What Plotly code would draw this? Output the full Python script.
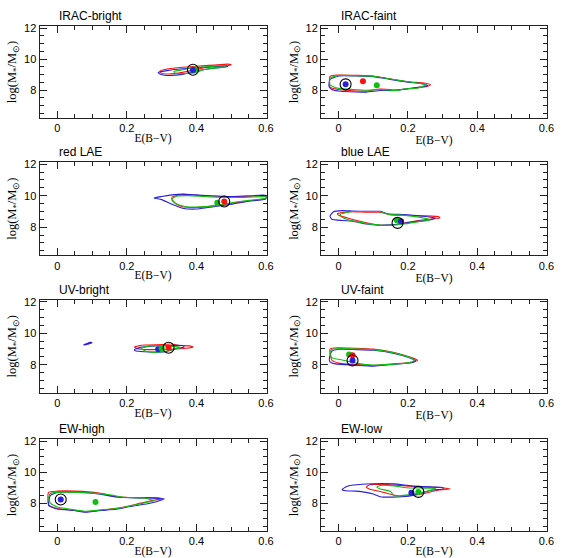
import plotly.graph_objects as go

# ---------------- data ----------------
PANEL_TITLES = ["IRAC-bright", "IRAC-faint", "red LAE", "blue LAE",
                "UV-bright", "UV-faint", "EW-high", "EW-low"]

X_TICKS = [0, 0.2, 0.4, 0.6]
X_TICK_TEXT = ["0", "0.2", "0.4", "0.6"]
Y_TICKS = [8, 10, 12]
Y_TICK_TEXT = ["8", "10", "12"]

# contours (E(B-V), log M*) per panel and colour
irac_bright_red = [(0.295, 9.22), (0.32, 9.38), (0.36, 9.48), (0.40, 9.55), (0.45, 9.62), (0.49, 9.68),
                   (0.50, 9.64), (0.48, 9.55), (0.44, 9.50), (0.40, 9.35), (0.36, 9.15), (0.32, 9.05), (0.298, 9.12)]
irac_bright_blue = [(0.29, 9.15), (0.32, 9.28), (0.36, 9.38), (0.40, 9.45), (0.45, 9.52), (0.485, 9.58),
                    (0.49, 9.52), (0.45, 9.42), (0.40, 9.25), (0.36, 9.02), (0.32, 8.95), (0.295, 9.05)]
irac_bright_green = [(0.335, 9.2), (0.36, 9.32), (0.39, 9.45), (0.42, 9.5), (0.46, 9.56), (0.485, 9.58),
                     (0.48, 9.5), (0.45, 9.42), (0.42, 9.32), (0.40, 9.15), (0.37, 9.08), (0.34, 9.1)]

irac_faint_red = [(-0.025, 8.9), (0.0, 8.98), (0.05, 8.96), (0.10, 8.92), (0.15, 8.72), (0.20, 8.55), (0.25, 8.45),
                  (0.265, 8.36), (0.255, 8.25), (0.22, 8.15), (0.17, 8.02), (0.12, 8.08), (0.08, 7.95), (0.03, 7.98),
                  (0.0, 8.05), (-0.025, 8.2)]
irac_faint_blue = [(-0.028, 8.25), (-0.025, 8.7), (0.0, 8.92), (0.05, 8.92), (0.10, 8.88), (0.15, 8.7), (0.20, 8.52),
                   (0.24, 8.42), (0.258, 8.3), (0.24, 8.22), (0.20, 8.1), (0.16, 7.98), (0.12, 7.98), (0.08, 7.88),
                   (0.03, 7.9), (0.0, 7.95), (-0.02, 8.05)]
irac_faint_green = [(-0.025, 8.35), (-0.025, 8.78), (0.0, 8.95), (0.05, 8.94), (0.10, 8.9), (0.15, 8.72), (0.20, 8.55),
                    (0.24, 8.42), (0.252, 8.35), (0.23, 8.15), (0.19, 8.08), (0.165, 7.98), (0.12, 8.05), (0.08, 8.0),
                    (0.04, 8.05), (0.0, 8.12), (-0.015, 8.22)]

red_lae_red = [(0.33, 9.9), (0.36, 10.08), (0.40, 10.02), (0.45, 9.98), (0.50, 9.95), (0.55, 9.97), (0.60, 9.98),
               (0.60, 9.82), (0.55, 9.68), (0.50, 9.5), (0.45, 9.35), (0.40, 9.25), (0.36, 9.3), (0.34, 9.5), (0.33, 9.7)]
red_lae_blue = [(0.278, 9.85), (0.30, 9.95), (0.33, 10.05), (0.36, 10.1), (0.40, 10.05), (0.45, 9.98), (0.50, 9.95),
                (0.55, 9.98), (0.60, 10.02), (0.60, 9.8), (0.55, 9.65), (0.50, 9.45), (0.45, 9.3), (0.40, 9.15),
                (0.36, 9.2), (0.33, 9.45), (0.30, 9.75)]
red_lae_green = [(0.33, 9.82), (0.345, 9.98), (0.38, 10.0), (0.42, 9.95), (0.46, 9.9), (0.50, 9.88), (0.55, 9.9),
                 (0.60, 9.94), (0.60, 9.85), (0.55, 9.7), (0.50, 9.55), (0.45, 9.35), (0.40, 9.28), (0.37, 9.3),
                 (0.345, 9.45), (0.335, 9.62)]

blue_lae_red = [(-0.004, 8.85), (0.03, 8.98), (0.08, 8.95), (0.12, 8.95), (0.15, 8.78), (0.20, 8.75), (0.25, 8.72),
                (0.29, 8.65), (0.292, 8.58), (0.27, 8.52), (0.24, 8.45), (0.20, 8.3), (0.16, 8.15), (0.12, 8.12),
                (0.08, 8.28), (0.03, 8.55), (0.0, 8.75)]
blue_lae_blue = [(-0.025, 8.7), (-0.015, 8.98), (0.01, 9.05), (0.04, 9.02), (0.08, 9.0), (0.12, 9.0), (0.14, 8.85),
                 (0.19, 8.8), (0.24, 8.7), (0.28, 8.58), (0.26, 8.45), (0.22, 8.35), (0.18, 8.22), (0.15, 8.15),
                 (0.12, 8.12), (0.08, 8.2), (0.04, 8.38), (0.01, 8.42), (-0.02, 8.5)]
blue_lae_green = [(0.005, 8.82), (0.04, 8.99), (0.08, 8.99), (0.12, 8.99), (0.14, 8.84), (0.19, 8.75), (0.235, 8.62),
                  (0.265, 8.46), (0.235, 8.36), (0.195, 8.22), (0.155, 8.13), (0.12, 8.13), (0.07, 8.27),
                  (0.025, 8.48), (0.008, 8.65)]

uv_bright_red = [(0.222, 9.12), (0.25, 9.25), (0.30, 9.28), (0.33, 9.32), (0.35, 9.22), (0.38, 9.2), (0.39, 9.12),
                 (0.37, 9.05), (0.34, 9.0), (0.30, 8.98), (0.26, 8.96), (0.23, 9.02)]
uv_bright_blue = [(0.222, 8.95), (0.24, 9.1), (0.28, 9.2), (0.32, 9.22), (0.36, 9.22), (0.365, 9.12), (0.34, 9.02),
                  (0.31, 8.82), (0.28, 8.8), (0.25, 8.82), (0.225, 8.88)]
uv_bright_blue_islet = [(0.078, 9.25), (0.09, 9.32), (0.10, 9.4), (0.095, 9.42), (0.083, 9.33), (0.076, 9.27)]
uv_bright_green = [(0.24, 9.05), (0.27, 9.2), (0.31, 9.2), (0.34, 9.15), (0.355, 9.1), (0.34, 9.0), (0.31, 8.85),
                   (0.28, 8.78), (0.255, 8.85)]

uv_faint_red = [(-0.025, 9.0), (0.0, 9.08), (0.05, 9.05), (0.10, 8.99), (0.16, 8.78), (0.21, 8.45), (0.228, 8.28),
                (0.21, 8.15), (0.16, 8.05), (0.10, 7.95), (0.05, 8.0), (0.0, 8.1), (-0.02, 8.3)]
uv_faint_blue = [(-0.027, 8.4), (-0.02, 8.85), (0.0, 8.98), (0.05, 8.96), (0.10, 8.92), (0.16, 8.72), (0.21, 8.4),
                 (0.222, 8.25), (0.21, 8.12), (0.16, 8.02), (0.10, 7.9), (0.05, 7.96), (-0.01, 8.05), (-0.025, 8.18)]
uv_faint_green = [(-0.025, 8.75), (-0.02, 8.98), (0.0, 9.02), (0.05, 9.0), (0.10, 8.96), (0.16, 8.75), (0.21, 8.42),
                  (0.218, 8.24), (0.195, 8.1), (0.15, 8.02), (0.10, 7.97), (0.05, 8.1), (0.01, 8.3), (-0.02, 8.45)]

ew_high_red = [(-0.025, 8.7), (0.0, 8.78), (0.05, 8.78), (0.12, 8.66), (0.17, 8.42), (0.23, 8.36), (0.28, 8.36),
               (0.302, 8.28), (0.28, 8.2), (0.24, 8.0), (0.18, 7.7), (0.13, 7.55), (0.08, 7.45), (0.04, 7.55),
               (0.0, 7.65), (-0.025, 7.9)]
ew_high_blue = [(-0.025, 7.85), (-0.02, 8.5), (0.0, 8.7), (0.05, 8.72), (0.12, 8.6), (0.17, 8.4), (0.23, 8.34),
                (0.28, 8.32), (0.308, 8.28), (0.30, 8.2), (0.26, 7.96), (0.21, 7.78), (0.17, 7.6), (0.12, 7.52),
                (0.08, 7.42), (0.05, 7.52), (0.0, 7.62), (-0.02, 7.78)]
ew_high_green = [(-0.025, 8.35), (-0.02, 8.62), (0.0, 8.7), (0.06, 8.7), (0.12, 8.62), (0.15, 8.55), (0.195, 8.38),
                 (0.25, 8.33), (0.28, 8.15), (0.25, 8.02), (0.21, 7.82), (0.17, 7.65), (0.12, 7.55), (0.08, 7.47),
                 (0.04, 7.6), (0.0, 7.75), (-0.02, 8.0)]

ew_low_red = [(0.08, 9.05), (0.09, 9.2), (0.14, 9.2), (0.195, 9.12), (0.23, 9.05), (0.29, 9.02), (0.322, 8.92),
              (0.29, 8.85), (0.24, 8.6), (0.21, 8.5), (0.17, 8.48), (0.12, 8.76), (0.09, 8.9)]
ew_low_blue = [(0.01, 8.88), (0.025, 9.1), (0.08, 9.24), (0.16, 9.25), (0.21, 9.12), (0.27, 9.05), (0.30, 9.02),
               (0.302, 8.92), (0.27, 8.85), (0.21, 8.48), (0.17, 8.4), (0.12, 8.42), (0.10, 8.6), (0.05, 8.78),
               (0.02, 8.8)]
ew_low_green = [(0.11, 9.05), (0.12, 9.15), (0.16, 9.12), (0.195, 9.0), (0.24, 8.98), (0.28, 8.95), (0.26, 8.8),
                (0.195, 8.52), (0.16, 8.48), (0.15, 8.75), (0.12, 8.92)]

# best-fit points (colour, E(B-V), logM) and the circled best fit
irac_bright_dots = [("green", 0.395, 9.35), ("blue", 0.39, 9.3)]
irac_faint_dots = [("red", 0.07, 8.58), ("green", 0.11, 8.32), ("blue", 0.02, 8.38)]
red_lae_dots = [("green", 0.46, 9.55), ("red", 0.48, 9.63)]
blue_lae_dots = [("green", 0.168, 8.43), ("blue", 0.18, 8.38)]
uv_bright_dots = [("blue", 0.29, 8.98), ("green", 0.30, 9.05), ("red", 0.32, 9.08)]
uv_faint_dots = [("green", 0.03, 8.65), ("red", 0.04, 8.6), ("blue", 0.04, 8.27)]
ew_high_dots = [("green", 0.11, 8.07), ("blue", 0.01, 8.24)]
ew_low_dots = [("blue", 0.21, 8.68), ("green", 0.23, 8.73)]

circles_x = [0.39, 0.02, 0.48, 0.17, 0.32, 0.04, 0.01, 0.23]
circles_y = [9.32, 8.38, 9.63, 8.27, 9.08, 8.27, 8.24, 8.73]

# ---------------- assembly ----------------
COLORS = {"red": "#ff1010", "blue": "#2a1fe0", "green": "#10c010"}

panel_contours = [
    [("red", irac_bright_red), ("blue", irac_bright_blue), ("green", irac_bright_green)],
    [("red", irac_faint_red), ("blue", irac_faint_blue), ("green", irac_faint_green)],
    [("red", red_lae_red), ("blue", red_lae_blue), ("green", red_lae_green)],
    [("red", blue_lae_red), ("blue", blue_lae_blue), ("green", blue_lae_green)],
    [("red", uv_bright_red), ("blue", uv_bright_blue), ("blue", uv_bright_blue_islet), ("green", uv_bright_green)],
    [("red", uv_faint_red), ("blue", uv_faint_blue), ("green", uv_faint_green)],
    [("red", ew_high_red), ("blue", ew_high_blue), ("green", ew_high_green)],
    [("red", ew_low_red), ("blue", ew_low_blue), ("green", ew_low_green)],
]
panel_dots = [irac_bright_dots, irac_faint_dots, red_lae_dots, blue_lae_dots,
              uv_bright_dots, uv_faint_dots, ew_high_dots, ew_low_dots]

X_DOMAINS = [[0.0703, 0.4745], [0.5712, 0.9736]]
Y_DOMAINS = [[0.7939, 0.9606], [0.5461, 0.7151], [0.2980, 0.4665], [0.0489, 0.2145]]

AX_COLOR = "#222222"
TICK_FONT = dict(family="Liberation Sans, Arial, sans-serif", size=11, color="black")
XTITLE_FONT = dict(family="Liberation Serif, Times New Roman, serif", size=11.5, color="black")
YTITLE_FONT = dict(family="Liberation Serif, Times New Roman, serif", size=12.5, color="black")

fig = go.Figure()

for i in range(8):
    r, c = divmod(i, 2)
    suffix = "" if i == 0 else str(i + 1)
    xa, ya = "x" + suffix, "y" + suffix
    for cname, poly in panel_contours[i]:
        xs = [p[0] for p in poly] + [poly[0][0]]
        ys = [p[1] for p in poly] + [poly[0][1]]
        fig.add_trace(go.Scatter(x=xs, y=ys, mode="lines", xaxis=xa, yaxis=ya,
                                 line=dict(color=COLORS[cname], width=1.1, shape="spline", smoothing=0.5),
                                 hoverinfo="skip", showlegend=False))
    for cname, dx, dy in panel_dots[i]:
        fig.add_trace(go.Scatter(x=[dx], y=[dy], mode="markers", xaxis=xa, yaxis=ya,
                                 marker=dict(color=COLORS[cname], size=6, line=dict(width=0)),
                                 hoverinfo="skip", showlegend=False))
    fig.add_trace(go.Scatter(x=[circles_x[i]], y=[circles_y[i]], mode="markers", xaxis=xa, yaxis=ya,
                             marker=dict(symbol="circle-open", color="black", size=11, line=dict(width=1.1)),
                             hoverinfo="skip", showlegend=False))

    fig.layout["xaxis" + suffix] = dict(
        domain=X_DOMAINS[c], anchor=ya, range=[-0.051, 0.602],
        tickmode="array", tickvals=X_TICKS, ticktext=X_TICK_TEXT,
        ticks="inside", ticklen=7, tickwidth=1, tickcolor=AX_COLOR,
        minor=dict(ticks="inside", ticklen=4, tickmode="linear", tick0=0, dtick=0.05, tickcolor=AX_COLOR,
                   showgrid=False),
        showline=True, linecolor=AX_COLOR, linewidth=1, mirror="allticks",
        showgrid=False, zeroline=False, tickfont=TICK_FONT,
        title=dict(text="E(B\u2212V)", font=XTITLE_FONT, standoff=0),
    )
    fig.layout["yaxis" + suffix] = dict(
        domain=Y_DOMAINS[r], anchor=xa, range=[6.2, 12.15],
        tickmode="array", tickvals=Y_TICKS, ticktext=Y_TICK_TEXT,
        ticks="inside", ticklen=7, tickwidth=1, tickcolor=AX_COLOR,
        minor=dict(ticks="inside", ticklen=4, tickmode="linear", tick0=0, dtick=0.5, tickcolor=AX_COLOR,
                   showgrid=False),
        showline=True, linecolor=AX_COLOR, linewidth=1, mirror="allticks",
        showgrid=False, zeroline=False, tickfont=TICK_FONT,
        title=dict(text="log(M<sub>*</sub>/M<sub>\u2299</sub>)", font=YTITLE_FONT, standoff=4),
    )
    fig.add_annotation(text=PANEL_TITLES[i], xref=xa, yref=ya + " domain", x=0, y=1,
                       xanchor="left", yanchor="bottom", yshift=1, showarrow=False,
                       font=dict(family="Liberation Sans, Arial, sans-serif", size=12, color="black"))

fig.update_layout(width=569, height=558, margin=dict(l=0, r=0, t=0, b=0),
                  paper_bgcolor="white", plot_bgcolor="white", showlegend=False)

fig.write_html("out.html")
